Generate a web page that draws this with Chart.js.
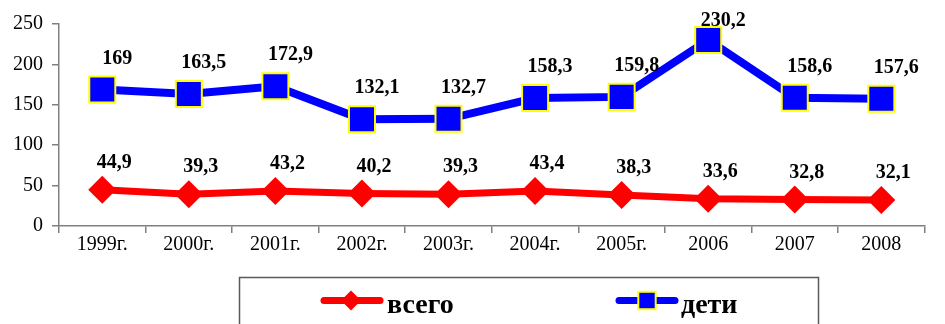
<!DOCTYPE html>
<html lang="ru">
<head>
<meta charset="utf-8">
<title>всего / дети</title>
<script src="https://cdn.jsdelivr.net/npm/chart.js@4/dist/chart.umd.min.js"></script>
<style>
  html, body { margin: 0; padding: 0; background: #ffffff; }
  #wrap { position: relative; width: 945px; height: 324px; }
</style>
</head>
<body>
<div id="wrap"><canvas id="chart"></canvas></div>
<script>
// Years along the horizontal axis
const years = ['1999г.', '2000г.', '2001г.', '2002г.', '2003г.', '2004г.', '2005г.', '2006', '2007', '2008'];
// Series values
const totalValues = [44.9, 39.3, 43.2, 40.2, 39.3, 43.4, 38.3, 33.6, 32.8, 32.1];
const childValues = [169, 163.5, 172.9, 132.1, 132.7, 158.3, 159.8, 230.2, 158.6, 157.6];
// Series names
const seriesNames = ['всего', 'дети'];
// Value axis ticks
const yTicks = [0, 50, 100, 150, 200, 250];

const SERIF = '"Liberation Serif", "Times New Roman", serif';
const fmt = v => String(v).replace('.', ',');

// Value labels above each point, shifted a little to the right
const valueLabels = {
  id: 'valueLabels',
  afterDatasetsDraw(chart) {
    const ctx = chart.ctx;
    ctx.save();
    ctx.font = 'bold 20px ' + SERIF;
    ctx.fillStyle = '#000000';
    ctx.textAlign = 'center';
    ctx.textBaseline = 'middle';
    chart.data.datasets.forEach((ds, di) => {
      const meta = chart.getDatasetMeta(di);
      const off = ds.labelOffset;
      meta.data.forEach((pt, i) => {
        const y = Math.max(pt.y + off.dy, 21);
        ctx.fillText(fmt(ds.data[i]), pt.x + off.dx, y);
      });
    });
    ctx.restore();
  }
};

// Boxed legend below the axis: line sample with marker, then the name
const boxLegend = {
  id: 'boxLegend',
  afterDraw(chart) {
    const ctx = chart.ctx;
    const ds = chart.data.datasets;
    ctx.save();
    ctx.strokeStyle = '#5a5a5a';
    ctx.lineWidth = 1.5;
    ctx.strokeRect(239.5, 277.5, 579, 60);

    const entries = [
      { d: ds[0], x0: 321, x1: 383, cx: 351, text: 387 },
      { d: ds[1], x0: 616, x1: 678, cx: 647, text: 681 }
    ];
    const ly = 300.5;
    entries.forEach(e => {
      ctx.strokeStyle = e.d.borderColor;
      ctx.lineWidth = 7;
      ctx.lineCap = 'round';
      ctx.beginPath();
      ctx.moveTo(e.x0 + 3, ly);
      ctx.lineTo(e.x1 - 3, ly);
      ctx.stroke();
      ctx.fillStyle = e.d.pointBackgroundColor;
      if (e.d.pointStyle === 'rectRot') {
        const r = 10;
        ctx.beginPath();
        ctx.moveTo(e.cx - r, ly);
        ctx.lineTo(e.cx, ly - r);
        ctx.lineTo(e.cx + r, ly);
        ctx.lineTo(e.cx, ly + r);
        ctx.closePath();
        ctx.fill();
      } else {
        const h = 8.7;
        ctx.fillRect(e.cx - h, ly - h, 2 * h, 2 * h);
        ctx.strokeStyle = e.d.pointBorderColor;
        ctx.lineWidth = 2;
        ctx.strokeRect(e.cx - h, ly - h, 2 * h, 2 * h);
      }
      ctx.fillStyle = '#000000';
      ctx.font = 'bold 28px ' + SERIF;
      ctx.textAlign = 'left';
      ctx.textBaseline = 'alphabetic';
      ctx.fillText(e.d.label, e.text, 313);
    });
    ctx.restore();
  }
};

function build() {
  new Chart(document.getElementById('chart'), {
    type: 'line',
    data: {
      labels: years,
      datasets: [
        {
          label: seriesNames[0],
          data: totalValues,
          borderColor: '#ff0000',
          backgroundColor: '#ff0000',
          borderWidth: 7,
          pointStyle: 'rectRot',
          pointRadius: 14,
          pointHoverRadius: 14,
          pointBackgroundColor: '#ff0000',
          pointBorderColor: '#ff0000',
          pointBorderWidth: 0,
          labelOffset: { dx: 12, dy: -27 }
        },
        {
          label: seriesNames[1],
          data: childValues,
          borderColor: '#0000ff',
          backgroundColor: '#0000ff',
          borderWidth: 8,
          pointStyle: 'rect',
          pointRadius: 18.4,
          pointHoverRadius: 18.4,
          pointBackgroundColor: '#0000ff',
          pointBorderColor: '#ffff00',
          pointBorderWidth: 2,
          labelOffset: { dx: 15, dy: -31 }
        }
      ]
    },
    options: {
      responsive: true,
      maintainAspectRatio: false,
      animation: false,
      events: [],
      layout: { padding: { top: 24, right: 2, left: 0, bottom: 0 } },
      plugins: {
        legend: { display: false },
        tooltip: { enabled: false }
      },
      scales: {
        x: {
          type: 'category',
          offset: true,
          afterFit(scale) { scale.height = 98; },
          grid: {
            display: true,
            offset: true,
            drawOnChartArea: false,
            drawTicks: true,
            tickLength: 7,
            color: '#808080',
            lineWidth: 1.5
          },
          border: { display: true, color: '#808080', width: 1.5 },
          ticks: {
            color: '#000000',
            font: { family: SERIF, size: 20 },
            padding: 0,
            maxRotation: 0,
            autoSkip: false
          }
        },
        y: {
          min: 0,
          max: 250,
          afterFit(scale) { scale.width = 59; },
          afterBuildTicks(scale) { scale.ticks = yTicks.map(v => ({ value: v })); },
          grid: {
            display: true,
            drawOnChartArea: false,
            drawTicks: true,
            tickLength: 7,
            color: '#808080',
            lineWidth: 1.5
          },
          border: { display: true, color: '#808080', width: 1.5 },
          ticks: {
            color: '#000000',
            font: { family: SERIF, size: 20 },
            padding: 9
          }
        }
      }
    },
    plugins: [valueLabels, boxLegend]
  });
}

// Make sure the serif faces are ready before the first paint
Promise.all([
  document.fonts.load('20px "Liberation Serif"', '0123456789г'),
  document.fonts.load('bold 20px "Liberation Serif"', '0123456789,всегодети')
]).then(build, build);
</script>
</body>
</html>
